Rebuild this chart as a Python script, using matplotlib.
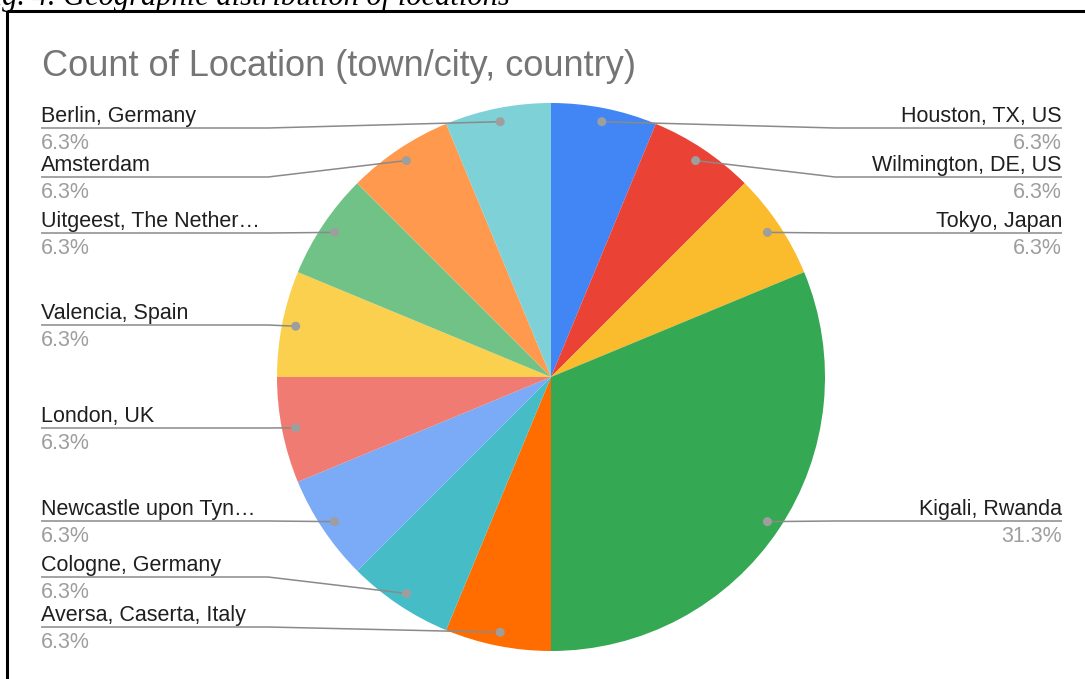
import numpy as np
import matplotlib
matplotlib.use("Agg")
import matplotlib.pyplot as plt
from matplotlib.patches import Circle
from decimal import Decimal, ROUND_HALF_UP

# Data: count of respondents by location
locations = [
    "Houston, TX, US", "Wilmington, DE, US", "Tokyo, Japan", "Kigali, Rwanda",
    "Aversa, Caserta, Italy", "Cologne, Germany", "Newcastle upon Tyn\u2026",
    "London, UK", "Valencia, Spain", "Uitgeest, The Nether\u2026", "Amsterdam",
    "Berlin, Germany",
]
counts = [1, 1, 1, 5, 1, 1, 1, 1, 1, 1, 1, 1]
colors = [
    "#4285F4", "#EA4335", "#FABB2C", "#34A853", "#FF6D01", "#46BDC6",
    "#7BAAF7", "#F07B72", "#FCD04F", "#71C287", "#FF994D", "#7ED1D7",
]

W, H = 1085, 679
fig = plt.figure(figsize=(W / 100, H / 100), dpi=100)
ax = fig.add_axes([0, 0, 1, 1])

FONT = "Liberation Sans"
cx, cy, R = 551, 377, 274

wedges, _ = ax.pie(counts, colors=colors, center=(cx, cy), radius=R,
                   startangle=-90, counterclock=True,
                   wedgeprops=dict(linewidth=0, antialiased=True),
                   frame=True)
ax.set_xlim(0, W)
ax.set_ylim(H, 0)
ax.set_aspect("equal")
ax.axis("off")

total = sum(counts)
# label layout: line y and side of the chart
layout = {
    "Houston, TX, US": (128, "R"),
    "Wilmington, DE, US": (177, "R"),
    "Tokyo, Japan": (233, "R"),
    "Kigali, Rwanda": (521, "R"),
    "Aversa, Caserta, Italy": (627, "L"),
    "Cologne, Germany": (577, "L"),
    "Newcastle upon Tyn\u2026": (521, "L"),
    "London, UK": (428, "L"),
    "Valencia, Spain": (325, "L"),
    "Uitgeest, The Nether\u2026": (233, "L"),
    "Amsterdam": (177, "L"),
    "Berlin, Germany": (128, "L"),
}
x_left, x_right = 41, 1062
bend_left, bend_right = 268, 835
line_c = "#8a8a8a"
dot_c = "#9e9e9e"


def fmt_pct(value):
    q = Decimal(str(100 * value)).quantize(Decimal("0.1"), rounding=ROUND_HALF_UP)
    return f"{q}%"


for w, name, c in zip(wedges, locations, counts):
    mid = np.deg2rad((w.theta1 + w.theta2) / 2)
    dx = cx + 0.95 * R * np.cos(mid)
    dy = cy + 0.95 * R * np.sin(mid)
    ly, side = layout[name]
    if side == "L":
        xs = [x_left, bend_left, dx]
        tx, ha = x_left, "left"
    else:
        xs = [x_right, bend_right, dx]
        tx, ha = x_right, "right"
    ax.plot(xs, [ly, ly, dy], color=line_c, lw=1.1, solid_capstyle="butt", zorder=3)
    ax.add_patch(Circle((dx, dy), 4.5, color=dot_c, zorder=4, lw=0))
    ax.text(tx, ly - 6, name, ha=ha, va="baseline", fontsize=15.5,
            family=FONT, color="#1f1f1f", zorder=5)
    ax.text(tx, ly + 21, fmt_pct(c / total), ha=ha, va="baseline", fontsize=15.5,
            family=FONT, color="#9e9e9e", zorder=5)

# chart title
ax.text(42, 76, "Count of Location (town/city, country)", ha="left",
        va="baseline", fontsize=26, family=FONT, color="#757575")

# frame around the chart
ax.plot([7, W + 5], [11, 11], color="black", lw=2.2, solid_capstyle="butt")
ax.plot([7, 7], [11, H + 5], color="black", lw=2.2, solid_capstyle="butt")

# figure caption above the frame
ax.text(510, 5, "Fig. 4. Geographic distribution of locations", ha="right",
        va="baseline", fontsize=22, family="Liberation Serif",
        style="italic", color="black", clip_on=False)

fig.savefig("out.png", dpi=100)
